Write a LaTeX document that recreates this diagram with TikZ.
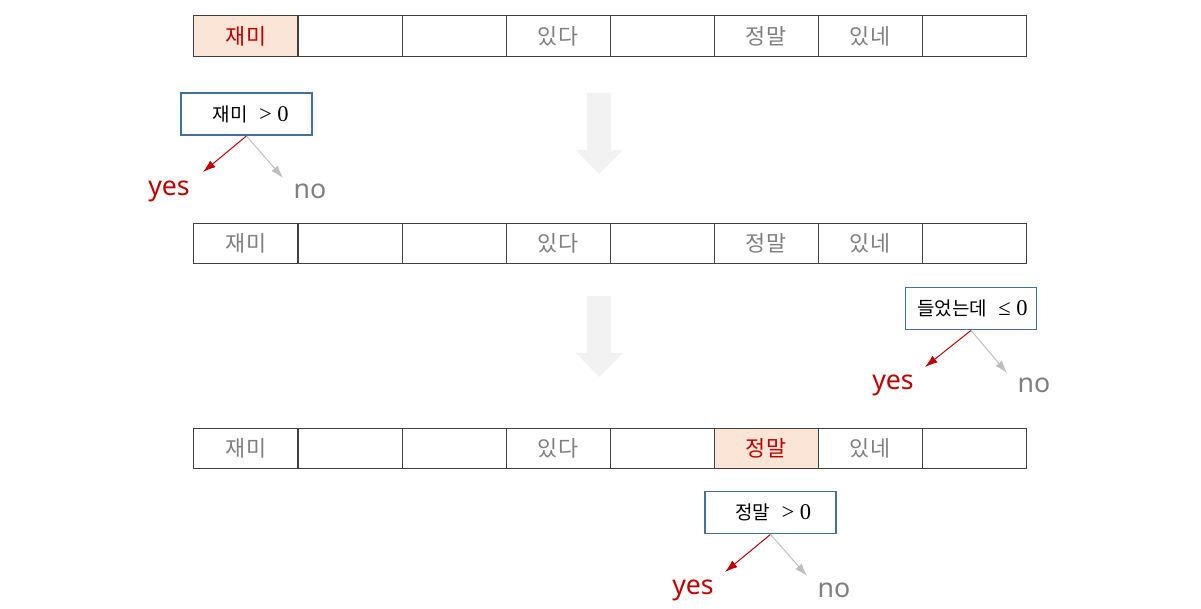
\documentclass[tikz,border=0pt]{standalone}
\usepackage{fontspec}
\usepackage{tikz}
\usepackage{xcolor}
\setmainfont{Liberation Serif}
\newfontfamily\krfont{Noto Sans CJK KR}
\newfontfamily\yesnofont{Noto Sans}
\usetikzlibrary{arrows.meta}
\definecolor{hlred}{RGB}{192, 0, 0}
\definecolor{hlfill}{RGB}{251, 229, 214}
\definecolor{wordgray}{RGB}{127, 127, 127}
\definecolor{cellline}{RGB}{64, 64, 64}
\definecolor{boxblue}{RGB}{65, 113, 156}
\definecolor{nogray}{RGB}{191, 191, 191}
\definecolor{flowgray}{RGB}{242, 242, 242}

\begin{document}
\begin{tikzpicture}[
  x=0.025cm, y=-0.025cm,
  cell/.style={draw=cellline, line width=0.7pt, minimum width=2.6cm, minimum height=1cm, inner sep=0pt,
    font=\krfont\fontsize{15.5}{18}\selectfont, text=wordgray},
  hcell/.style={cell, fill=hlfill, text=hlred},
  test/.style={draw=boxblue, line width=1.3pt, minimum width=3.275cm, minimum height=1.05cm, inner sep=0pt,
    font=\fontsize{16}{18}\selectfont},
  yeslabel/.style={font=\yesnofont\fontsize{19}{22}\selectfont, text=hlred, inner sep=0pt},
  nolabel/.style={font=\yesnofont\fontsize{19}{22}\selectfont, text=wordgray, inner sep=0pt},
  yesarrow/.style={-{Latex[length=9pt, width=6pt]}, line width=0.7pt, draw=hlred},
  noarrow/.style={-{Latex[length=9pt, width=6pt]}, line width=0.7pt, draw=nogray}
]
  \useasboundingbox (0,0) rectangle (1201,609);

  % Sentence rows
  \foreach \r/\y/\h in {1/36/1, 2/243/0, 3/448/6} {
    \foreach \w [count=\c] in {재미,{},{},있다,{},정말,있네,{}} {
      \ifnum\c=\h \def\st{hcell}\else\def\st{cell}\fi
      \node[\st] (r\r c\c) at ({246+104*(\c-1)},\y) {\w};
    }
  }

  % Flow arrows
  \fill[flowgray] (587,93) -- (611,93) -- (611,150) -- (623,150) -- (599,174)
    -- (576,150) -- (587,150) -- cycle;
  \fill[flowgray] (587,296) -- (611,296) -- (611,353) -- (623,353) -- (599,377)
    -- (576,353) -- (587,353) -- cycle;

  % Tests
  \node[test] (t1) at (246.5,114) {\hspace{6pt}{\krfont\fontsize{13.5}{16}\selectfont 재미}\ \ > 0};
  \node[test] (t2) at (971,308.5) {\hspace{2pt}{\krfont\fontsize{13.5}{16}\selectfont 들었는데}\ \ ≤ 0};
  \node[test] (t3) at (770.5,512.5) {\hspace{4pt}{\krfont\fontsize{13.5}{16}\selectfont 정말}\ \ > 0};

  % Branch labels
  \node[yeslabel] (yes1) at (169,191) {yes};
  \node[nolabel] (no1) at (310,191) {no};
  \node[yeslabel] (yes2) at (893,385) {yes};
  \node[nolabel] (no2) at (1034,385) {no};
  \node[yeslabel] (yes3) at (693,590) {yes};
  \node[nolabel] (no3) at (834,590) {no};

  % Branch ends
  \coordinate (y1) at (203,172);
  \coordinate (n1) at (283,178);
  \coordinate (y2) at (925,367);
  \coordinate (n2) at (1007,373);
  \coordinate (y3) at (725,572);
  \coordinate (n3) at (807,576);

  % Branches
  \foreach \k in {1,2,3} {
    \draw[yesarrow] (t\k.south) -- (y\k);
    \draw[noarrow] (t\k.south) -- (n\k);
  }
\end{tikzpicture}
\end{document}
